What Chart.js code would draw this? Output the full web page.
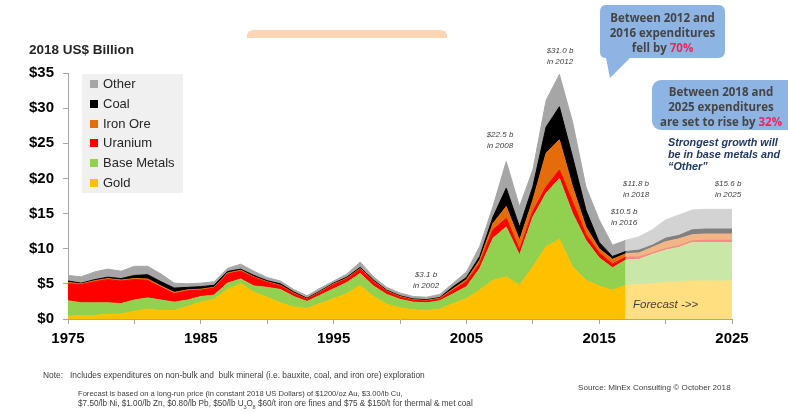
<!DOCTYPE html>
<html>
<head>
<meta charset="utf-8">
<script src="https://cdn.jsdelivr.net/npm/chart.js@4.4.1/dist/chart.umd.min.js"></script>
<style>
  body { margin: 0; background: #fff; }
  #wrap { position: relative; width: 788px; height: 413px; overflow: hidden; font-family: Arial, "Liberation Sans", sans-serif; }
  #wrap canvas, #wrap svg { position: absolute; left: 0; top: 0; }
  .t { position: absolute; white-space: nowrap; line-height: 1; }
  .note { font-style: italic; font-size: 8px; color: #404040; text-align: center; line-height: 10.5px; }
  .bubble { font-family: "Open Sans", sans-serif; font-weight: bold; font-size: 11.5px; color: #454545; text-align: center; line-height: 15px; }
  .hot { color: #f0245c; }
  .leg { position: absolute; left: 82px; top: 74px; width: 101px; height: 119px; background: #f0f0f0; }
  .leg div { position: absolute; left: 8px; height: 16px; line-height: 16px; font-size: 13px; color: #262626; white-space: nowrap; }
  .leg span { display: inline-block; width: 8px; height: 8px; margin-right: 5px; vertical-align: 0px; }
  .foot { color: #404040; }
</style>
</head>
<body>
<div id="wrap">
  <canvas id="mineChart" width="788" height="413"></canvas>

  <svg width="788" height="413">
    <path d="M247,38 V36 Q247,30 254,30 H440 Q447,30 447,36 V38 Z" fill="#fcd5b4"/>
    <path d="M606,5 H718 Q725,5 725,12 V51 Q725,58 718,58 H630 L610,78 L606,58 Q600,58 600,52 V12 Q600,5 606,5 Z" fill="#8eb4e3"/>
    <rect x="652" y="80" width="150" height="50" rx="9" fill="#8eb4e3"/>
  </svg>

  <div class="t" style="left:29px;top:43px;font-size:13.5px;font-weight:bold;color:#262626">2018 US$ Billion</div>

  <div class="leg" id="legend"></div>

  <div class="t bubble" style="left:600px;top:10px;width:125px">Between 2012 and<br>2016 expenditures<br>fell by <span class="hot">70%</span></div>
  <div class="t bubble" style="left:651px;top:84px;width:140px">Between 2018 and<br>2025 expenditures<br>are set to rise by <span class="hot">32%</span></div>
  <div class="t" style="left:668px;top:136px;font-size:10.8px;line-height:12px;font-weight:bold;font-style:italic;color:#1f3864">Strongest growth will<br>be in base metals and<br>“Other”</div>

  <div class="t note" style="left:530px;top:46px;width:60px">$31.0 b<br>in 2012</div>
  <div class="t note" style="left:470px;top:130px;width:60px">$22.5 b<br>in 2008</div>
  <div class="t note" style="left:396px;top:270px;width:60px">$3.1 b<br>in 2002</div>
  <div class="t note" style="left:606px;top:179px;width:60px">$11.8 b<br>in 2018</div>
  <div class="t note" style="left:594px;top:207px;width:60px">$10.5 b<br>in 2016</div>
  <div class="t note" style="left:698px;top:179px;width:60px">$15.6 b<br>in 2025</div>

  <div class="t" style="left:633px;top:299px;font-size:11.5px;font-style:italic;color:#404040">Forecast -&gt;&gt;</div>

  <div class="t foot" style="left:43px;top:371px;font-size:8.4px">Note:</div>
  <div class="t foot" style="left:70px;top:371px;font-size:8.4px">Includes expenditures on non-bulk and&nbsp; bulk mineral (i.e. bauxite, coal, and iron ore) exploration</div>
  <div class="t foot" style="left:78px;top:390px;font-size:7.6px">Forecast is based on a long-run price (in constant 2018 US Dollars) of $1200/oz Au, $3.00/lb Cu,</div>
  <div class="t foot" style="left:78px;top:400px;font-size:8.2px">$7.50/lb Ni, $1.00/lb Zn, $0.80/lb Pb, $50/lb U<sub style="font-size:5px">3</sub>O<sub style="font-size:5px">8</sub> $60/t iron ore fines and $75 &amp; $150/t for thermal &amp; met coal</div>
  <div class="t foot" style="left:578px;top:384px;font-size:8.1px">Source: MinEx Consulting © October 2018</div>
</div>

<script>
// years with reported data, and forecast years (2017 repeated so the two parts join)
const years = [];
for (let y = 1975; y <= 2017; y++) years.push(y);
const forecastYears = [2017, 2018, 2019, 2020, 2021, 2022, 2023, 2024, 2025];

// US$ billion (2018), thickness of each layer
const gold = [0.4,0.5,0.5,0.7,0.7,1.1,1.4,1.2,1.2,1.8, 2.4,2.8,4.2,5.0,3.8,3.1,2.3,1.7,1.5,2.2,
              2.9,3.6,4.8,3.2,2.1,1.6,1.3,1.2,1.4,2.2, 2.9,4.1,5.5,6.0,4.8,7.4,10.3,11.3,7.4,5.5, 4.7,4.1,4.8];
const baseMetals = [2.2,1.8,1.8,1.6,1.5,1.6,1.6,1.5,1.2,0.9, 0.8,0.6,0.9,0.7,0.9,1.4,1.9,1.5,1.0,1.2,
              1.4,1.6,1.7,1.5,1.4,1.2,1.1,1.1,1.2,1.4, 1.7,3.1,6.0,7.1,4.3,7.1,7.6,8.7,7.6,5.7, 4.0,3.2,3.6];
const uranium = [2.4,2.6,3.0,3.3,3.2,2.9,2.5,1.8,1.2,1.3, 0.9,1.0,1.3,1.1,1.2,0.7,0.5,0.4,0.3,0.4,
              0.6,0.5,0.6,0.6,0.4,0.3,0.25,0.25,0.25,0.5, 0.7,0.7,1.2,1.2,0.7,0.8,0.9,1.2,1.6,0.8, 0.7,0.5,0.4];
const ironOre = [0.2,0.1,0.15,0.15,0.15,0.15,0.2,0.2,0.2,0.15, 0.15,0.1,0.15,0.15,0.1,0.1,0.1,0.1,0.05,0.1,
              0.1,0.1,0.1,0.1,0.1,0.1,0.1,0.1,0.1,0.2, 0.3,0.5,0.9,1.7,1.4,1.6,4.8,4.3,2.2,1.1, 0.6,0.7,0.5];
const coal = [0.2,0.1,0.15,0.2,0.2,0.45,0.6,0.6,0.6,0.35, 0.35,0.3,0.2,0.15,0.2,0.15,0.2,0.15,0.1,0.1,
              0.1,0.15,0.15,0.15,0.1,0.1,0.1,0.1,0.1,0.3, 0.3,0.5,0.9,2.6,1.9,1.9,3.7,4.7,4.2,2.4, 0.9,0.4,0.3];
const other = [0.8,0.9,1.1,1.15,1.05,1.3,1.2,1.1,0.7,0.5, 0.5,0.5,0.45,0.7,0.6,0.45,0.4,0.35,0.35,0.4,
              0.3,0.45,0.75,0.45,0.4,0.4,0.35,0.35,0.45,0.5, 0.8,1.4,1.5,3.8,2.9,2.4,3.8,4.6,5.0,3.3, 3.2,1.6,1.6];

// forecast 2017-2025
const goldF = [4.8,4.9,5.0,5.2,5.3,5.4,5.4,5.4,5.4];
const baseMetalsF = [3.6,3.6,4.2,4.6,4.9,5.5,5.5,5.5,5.5];
const uraniumF = [0.4,0.3,0.2,0.2,0.2,0.2,0.3,0.3,0.3];
const ironOreF = [0.5,0.6,0.8,1.0,1.0,0.9,0.9,0.9,0.9];
const coalF = [0.3,0.4,0.3,0.5,0.5,0.7,0.7,0.7,0.7];
const otherF = [1.6,1.9,2.2,2.6,2.9,2.8,2.8,2.8,2.8];

const commodities = ['Gold', 'Base Metals', 'Uranium', 'Iron Ore', 'Coal', 'Other'];
const xTicks = [1975, 1985, 1995, 2005, 2015, 2025];

const actualSeries = [gold, baseMetals, uranium, ironOre, coal, other];
const forecastSeries = [goldF, baseMetalsF, uraniumF, ironOreF, coalF, otherF];
const colors = ['#ffc000', '#92d050', '#ff0000', '#e46c0a', '#000000', '#a6a6a6'];
const lightColors = ['#ffdf80', '#c9e8a8', '#ff8080', '#f2b585', '#808080', '#d3d3d3'];

const datasets = [];
commodities.forEach((name, i) => {
    datasets.push({
        label: name,
        stack: 'actual',
        data: years.map((y, j) => ({ x: y, y: actualSeries[i][j] })),
        backgroundColor: colors[i],
        borderColor: colors[i],
        borderWidth: 1,
        fill: i === 0 ? 'origin' : '-1'
    });
});
commodities.forEach((name, i) => {
    datasets.push({
        label: name + ' (forecast)',
        stack: 'forecast',
        data: forecastYears.map((y, j) => ({ x: y, y: forecastSeries[i][j] })),
        backgroundColor: lightColors[i],
        borderColor: lightColors[i],
        borderWidth: 1,
        fill: i === 0 ? 'origin' : '-1'
    });
});

// legend box (top item = Other)
const legend = document.getElementById('legend');
commodities.slice().reverse().forEach((name, k) => {
    const idx = commodities.indexOf(name);
    const row = document.createElement('div');
    row.style.top = (2 + k * 19.8) + 'px';
    row.innerHTML = '<span style="background:' + colors[idx] + '"></span>' + name;
    legend.appendChild(row);
});

const axisGrey = '#a6a6a6';
const tickFont = { family: 'Arial, "Liberation Sans", sans-serif', weight: 'bold', size: 15 };

new Chart(document.getElementById('mineChart').getContext('2d'), {
    type: 'line',
    data: { datasets: datasets },
    options: {
        responsive: false,
        animation: false,
        layout: { padding: { left: 0, right: 56, top: 73, bottom: 64 } },
        elements: { point: { radius: 0 }, line: { tension: 0 } },
        plugins: { legend: { display: false }, tooltip: { enabled: false } },
        scales: {
            x: {
                type: 'linear',
                min: 1975,
                max: 2025,
                afterFit: (s) => { s.height = 30; },
                ticks: {
                    stepSize: 5,
                    autoSkip: false,
                    maxRotation: 0,
                    padding: 6,
                    color: '#000',
                    font: tickFont,
                    callback: (v) => xTicks.includes(v) ? String(v) : ''
                },
                grid: { drawOnChartArea: false, drawTicks: true, tickLength: 5, color: axisGrey },
                border: { color: axisGrey }
            },
            y: {
                stacked: true,
                min: 0,
                max: 35,
                afterFit: (s) => { s.width = 68; },
                ticks: {
                    stepSize: 5,
                    padding: 9,
                    color: '#000',
                    font: tickFont,
                    callback: (v) => '$' + v
                },
                grid: { drawOnChartArea: false, drawTicks: true, tickLength: 5, color: axisGrey },
                border: { color: axisGrey }
            }
        }
    }
});
</script>
</body>
</html>
